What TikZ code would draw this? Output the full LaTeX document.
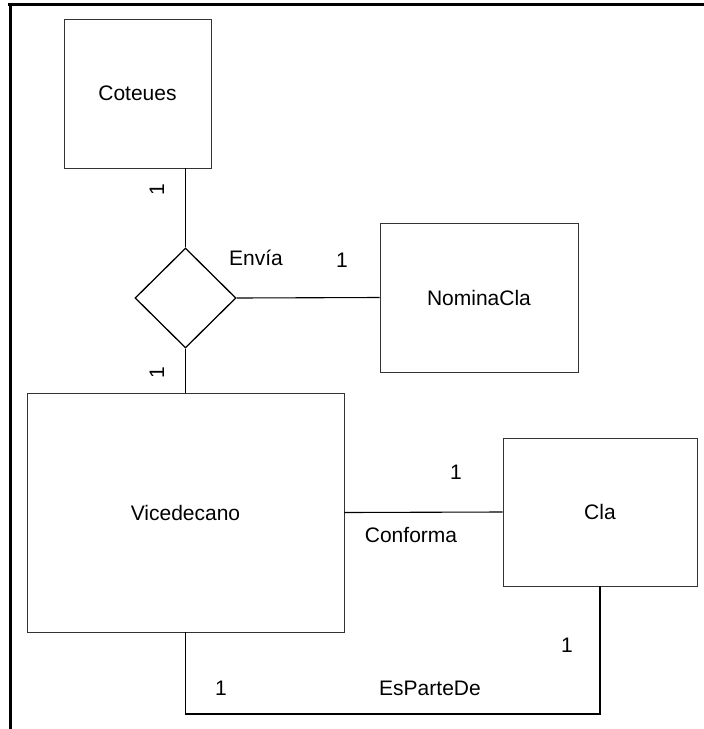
\documentclass[tikz,border=0pt]{standalone}
\usepackage{fontspec}
\setmainfont{Liberation Sans}
\usetikzlibrary{shapes.geometric}
\begin{document}
\begin{tikzpicture}[x=1pt,y=-1pt,
  entity/.style={draw=black!80, line width=0.9pt, fill=white, rectangle, inner sep=0pt,
    font=\fontsize{21}{25}\selectfont},
  rel/.style={draw=black, line width=1.3pt, diamond, aspect=1, inner sep=0pt,
    minimum width=101pt, minimum height=100pt},
  conn/.style={draw=black, line width=1.1pt},
  lbl/.style={inner sep=0pt, font=\fontsize{21}{25}\selectfont},
  frame/.style={draw=black, line width=3pt}]
\useasboundingbox (0,0) rectangle (704,729);
\coordinate (f1) at (8,4);
\coordinate (f2) at (704,4);
\coordinate (f3) at (10,2.5);
\coordinate (f4) at (10,729);
\draw[frame] (f1) -- (f2);
\draw[frame] (f3) -- (f4);

\node[entity, minimum width=147pt, minimum height=149pt] (cot) at (137.5,93.5) {Coteues};
\node[rel] (env) at (185.5,298) {};
\node[entity, minimum width=317pt, minimum height=239pt] (vic) at (185.5,512.5) {Vicedecano};
\node[entity, minimum width=198pt, minimum height=149pt] (nom) at (479,297.5) {NominaCla};
\node[entity, minimum width=194pt, minimum height=148pt] (cla) at (600,512) {Cla};
\coordinate (bot) at (400,714);

\draw[conn] (env.north) -- (env.north |- cot.south);
\draw[conn] (env.south) -- (vic.north);
\draw[conn] (env.east) -- (nom.west);
\draw[conn] (vic.east) -- (cla.west);
\draw[conn] (vic.south) |- (bot) -| (cla.south);

\node[lbl, rotate=90] (c1) at (157,190) {1};
\node[lbl, rotate=90] (c2) at (157,373) {1};
\node[lbl] (tenv) at (256,258) {Envía};
\node[lbl] (c3) at (342,260) {1};
\node[lbl] (c4) at (456,472) {1};
\node[lbl] (tconf) at (411,535) {Conforma};
\node[lbl] (c5) at (221,688) {1};
\node[lbl] (tesp) at (430,688) {EsParteDe};
\node[lbl] (c6) at (567,645) {1};
\end{tikzpicture}
\end{document}
